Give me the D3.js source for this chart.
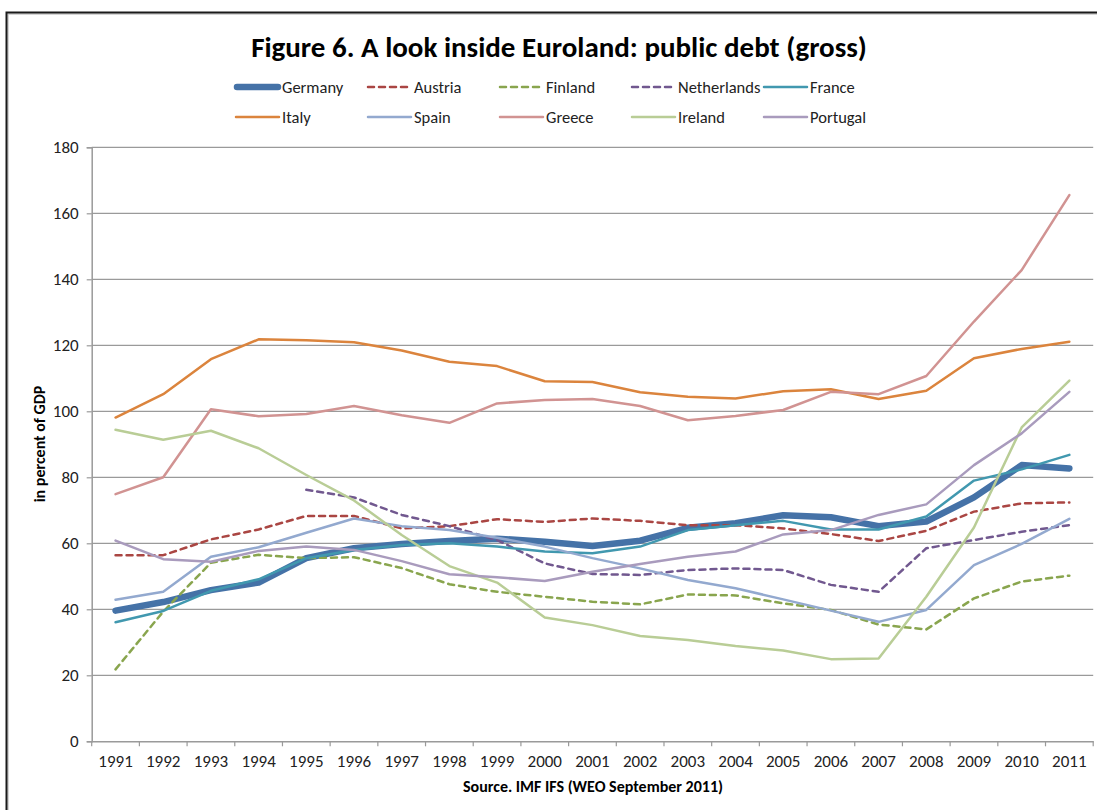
<!DOCTYPE html>
<html>
<head>
<meta charset="utf-8">
<script src="https://cdn.jsdelivr.net/npm/d3@7"></script>
<style>
  html, body { margin: 0; padding: 0; background: #fff; }
  svg { display: block; }
  text { font-family: Carlito, Lato, "Open Sans", sans-serif; }
</style>
</head>
<body>
<svg id="chart" width="1097" height="810"></svg>
<script>
const years = ["1991","1992","1993","1994","1995","1996","1997","1998","1999","2000","2001","2002","2003","2004","2005","2006","2007","2008","2009","2010","2011"];
const yTicks = [0,20,40,60,80,100,120,140,160,180];
const seriesNames = ["Germany","Austria","Finland","Netherlands","France","Italy","Spain","Greece","Ireland","Portugal"];

const germany     = [39.6,42.2,45.8,48.1,55.5,58.5,59.8,60.7,61.4,60.5,59.2,60.8,64.7,66.1,68.5,67.9,65.2,66.6,73.9,83.7,82.7];
const austria     = [56.4,56.4,61.2,64.2,68.3,68.3,64.5,65.2,67.3,66.5,67.5,66.8,65.5,65.5,64.5,62.8,60.7,63.8,69.6,72.1,72.4];
const finland     = [21.8,39.3,54.1,56.5,55.5,55.8,52.5,47.6,45.3,43.8,42.3,41.5,44.5,44.2,41.8,39.8,35.4,33.9,43.3,48.4,50.2];
const netherlands = [null,null,null,null,76.2,73.9,68.6,65.2,61.0,53.9,50.7,50.4,51.9,52.4,51.9,47.4,45.3,58.5,61.0,63.5,65.5];
const france      = [36.1,39.5,45.6,49.1,55.5,58.0,59.5,60.0,59.0,57.5,57.0,59.0,64.0,65.5,66.8,64.2,64.2,68.1,79.0,82.4,86.8];
const italy       = [98.1,105.2,115.8,121.8,121.5,120.9,118.4,115.0,113.7,109.1,108.9,105.8,104.4,103.9,106.1,106.7,103.7,106.2,116.1,118.9,121.1];
const spain       = [42.9,45.3,55.9,58.8,63.2,67.5,65.2,64.0,61.7,59.0,55.5,52.4,48.9,46.4,43.0,39.6,36.2,39.8,53.4,59.8,67.4];
const greece      = [74.9,80.0,100.6,98.5,99.2,101.6,98.8,96.5,102.4,103.4,103.7,101.6,97.3,98.6,100.4,105.9,105.2,110.7,127.2,142.8,165.5];
const ireland     = [94.4,91.4,94.1,88.8,80.7,73.0,62.5,53.1,48.1,37.5,35.2,31.9,30.7,28.9,27.5,24.9,25.1,43.8,64.8,95.1,109.3];
const portugal    = [60.8,55.2,54.4,57.7,59.0,58.0,54.6,50.6,49.7,48.6,51.4,53.7,55.9,57.5,62.7,64.0,68.6,71.8,83.7,93.3,105.9];

const seriesValues = [germany, austria, finland, netherlands, france, italy, spain, greece, ireland, portugal];
const colors = ["#4572A7","#AA4643","#89A54E","#71588F","#4198AF","#DB843D","#93A9CF","#D19392","#B9CD96","#A99BBD"];
const widths = [6.5,2.5,2.5,2.5,2.5,2.5,2.5,2.5,2.5,2.5];
const dashes = [null,"6,5","6,5","6,5",null,null,null,null,null,null];

(function() {
const svg = d3.select("#chart");
const FONT = "Carlito, Lato, sans-serif";

// outer frame
svg.append("rect").attr("x",8).attr("y",14).attr("width",1200).attr("height",900)
  .attr("fill","none").attr("stroke","#c8c8c8").attr("stroke-width",1.5);
svg.append("rect").attr("x",6.5).attr("y",12.5).attr("width",1200).attr("height",900)
  .attr("fill","none").attr("stroke","#1a1a1a").attr("stroke-width",2);

const pLeft = 91.7, pRight = 1093.2, pTop = 147.3, pBottom = 741.3;
const x = d3.scaleBand().domain(years).range([pLeft, pRight]);
const y = d3.scaleLinear().domain([0,180]).range([pBottom, pTop]);

// gridlines
svg.append("g").selectAll("line").data(yTicks.filter(d => d > 0)).join("line")
  .attr("x1", pLeft).attr("x2", pRight)
  .attr("y1", d => y(d)).attr("y2", d => y(d))
  .attr("stroke","#9a9a9a").attr("stroke-width",1.2);

// y axis
const yAxis = svg.append("g").attr("transform",`translate(${pLeft},0)`)
  .call(d3.axisLeft(y).tickValues(yTicks).tickSize(5).tickPadding(8));
yAxis.select(".domain").attr("stroke","#9a9a9a").attr("stroke-width",1.5);
yAxis.selectAll(".tick line").attr("stroke","#9a9a9a").attr("stroke-width",1.2);
yAxis.selectAll(".tick text").attr("font-size",17).attr("fill","#222")
  .style("font-family",FONT);

// x axis
const xAxis = svg.append("g").attr("transform",`translate(0,${pBottom})`)
  .call(d3.axisBottom(x).tickSize(0).tickPadding(14));
xAxis.select(".domain").attr("stroke","#9a9a9a").attr("stroke-width",1.5);
xAxis.selectAll(".tick text").attr("font-size",17).attr("fill","#222")
  .style("font-family",FONT);
// category boundary ticks
const boundaries = years.map(d => x(d)).concat([pRight]);
svg.append("g").selectAll("line").data(boundaries).join("line")
  .attr("x1", d => d).attr("x2", d => d)
  .attr("y1", pBottom).attr("y2", pBottom + 5)
  .attr("stroke","#9a9a9a").attr("stroke-width",1.2);

// lines
const line = d3.line()
  .defined(d => d.v !== null)
  .x(d => x(d.year) + x.bandwidth()/2)
  .y(d => y(d.v));

seriesNames.forEach((name, i) => {
  const data = years.map((yr, j) => ({year: yr, v: seriesValues[i][j]}));
  svg.append("path").datum(data)
    .attr("d", line)
    .attr("fill","none")
    .attr("stroke", colors[i])
    .attr("stroke-width", widths[i])
    .attr("stroke-linejoin","round")
    .attr("stroke-linecap","round")
    .attr("stroke-dasharray", dashes[i]);
});

// title
svg.append("text").attr("x",559).attr("y",57).attr("text-anchor","middle")
  .attr("font-size",29).attr("font-weight","bold").attr("fill","#000")
  .text("Figure 6. A look inside Euroland: public debt (gross)");

// legend
const legX = [235,367,499,631,763];
const legY = [87,117];
seriesNames.forEach((name, i) => {
  const col = i % 5, row = Math.floor(i / 5);
  const g = svg.append("g").attr("transform",`translate(${legX[col]},${legY[row]})`);
  g.append("line").attr("x1", i===0 ? 2 : 1).attr("x2", i===0 ? 43 : 44).attr("y1",0).attr("y2",0)
    .attr("stroke", colors[i]).attr("stroke-width", widths[i])
    .attr("stroke-linecap","round")
    .attr("stroke-dasharray", dashes[i]);
  g.append("text").attr("x",47).attr("y",6).attr("font-size",16.5).attr("fill","#222").text(name);
});

// y axis title
svg.append("text").attr("transform","translate(45,444) rotate(-90)")
  .attr("text-anchor","middle").attr("font-size",16).attr("font-weight","bold").attr("fill","#000")
  .text("in percent of GDP");

// source
svg.append("text").attr("x",593).attr("y",792).attr("text-anchor","middle")
  .attr("font-size",16).attr("font-weight","bold").attr("fill","#000")
  .text("Source. IMF IFS (WEO September 2011)");
})();
</script>
</body>
</html>
